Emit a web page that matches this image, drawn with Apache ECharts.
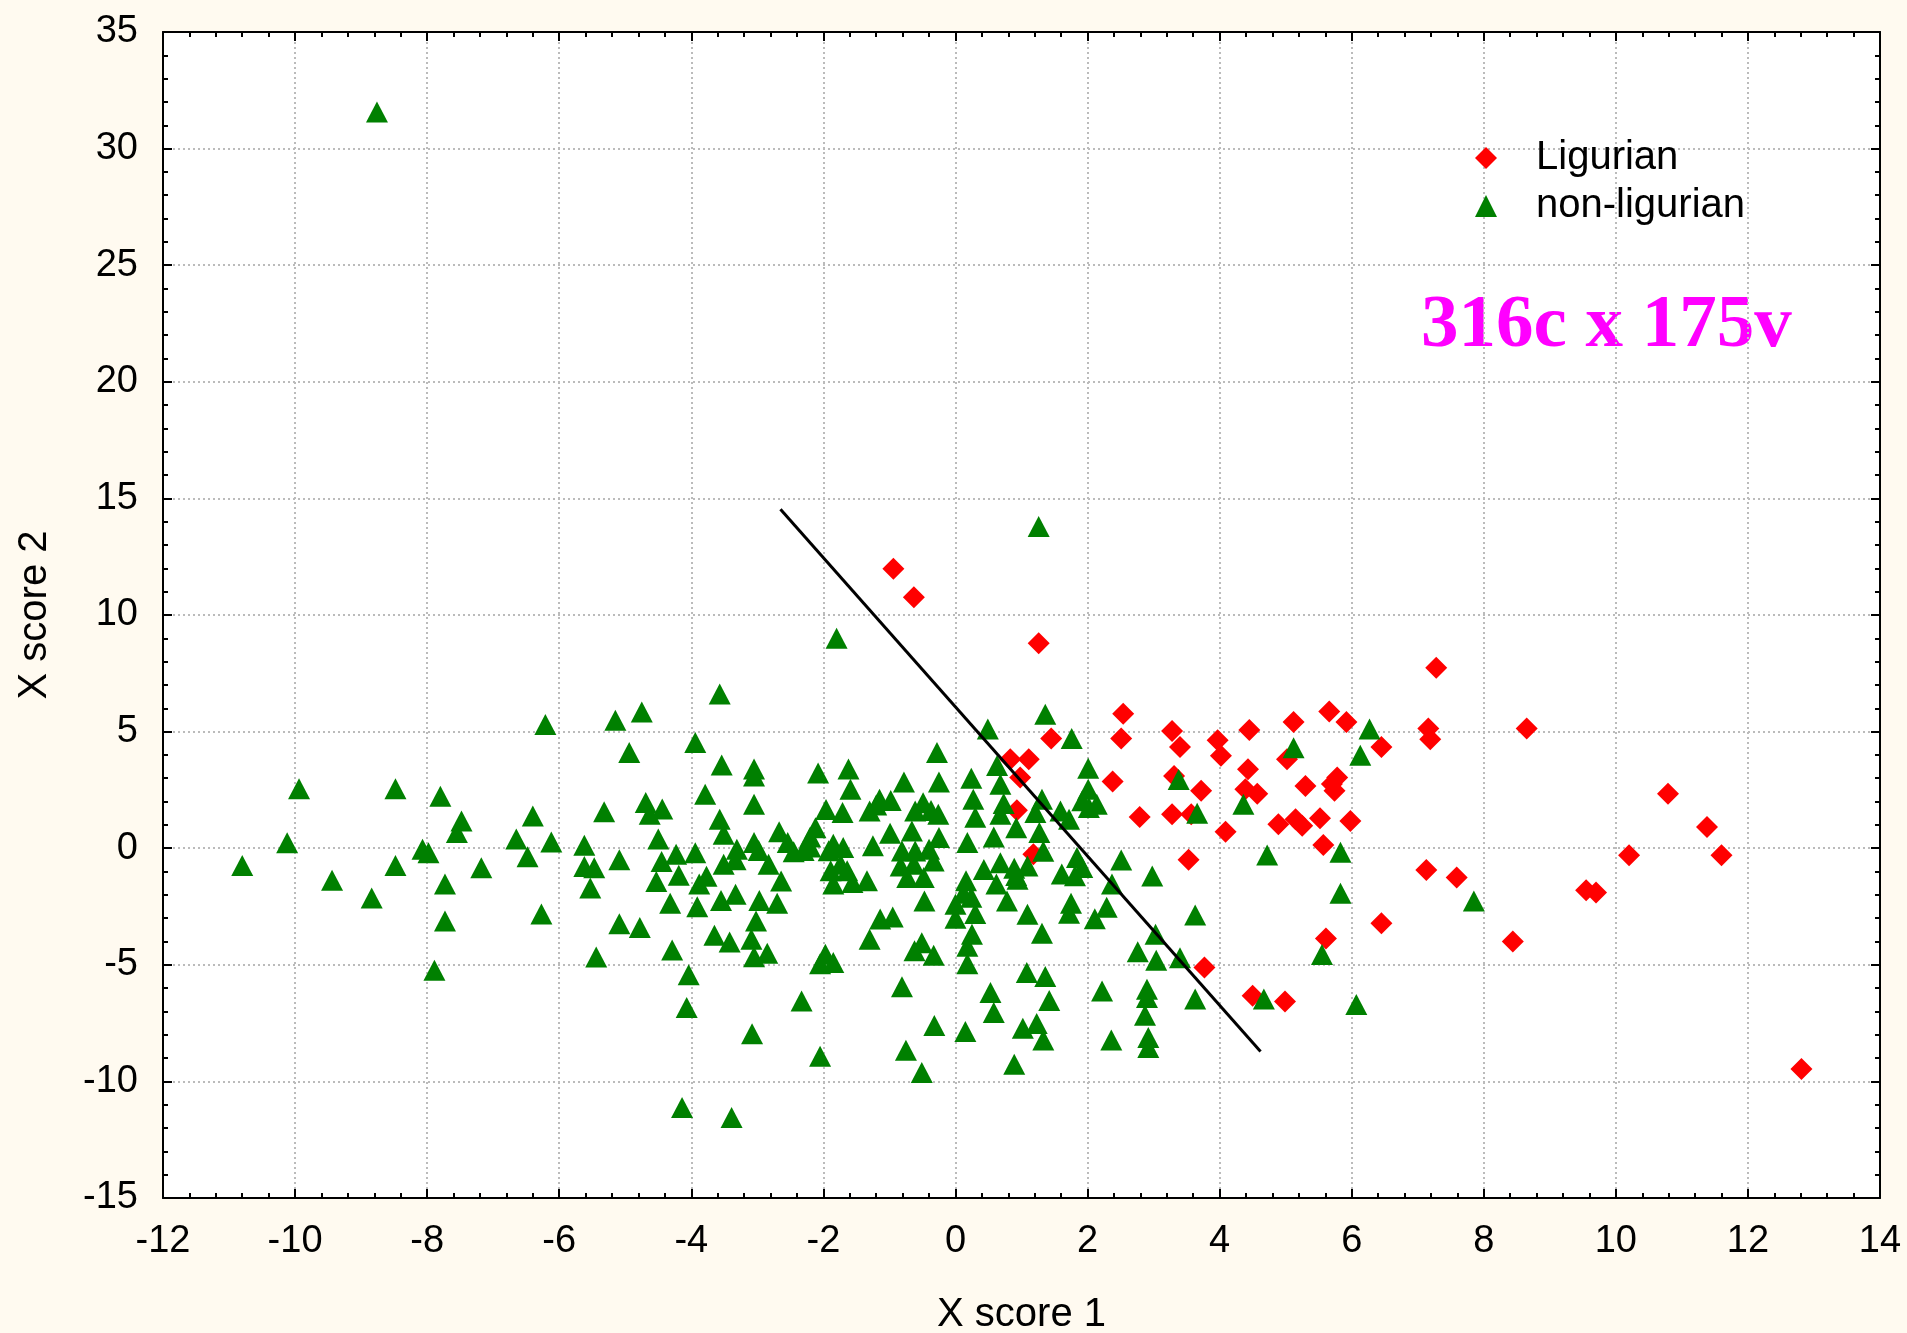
<!DOCTYPE html>
<html>
<head>
<meta charset="utf-8">
<script src="https://cdn.jsdelivr.net/npm/echarts@6/dist/echarts.min.js"></script>
<style>
  html, body { margin: 0; padding: 0; background: #FFFAF0; }
  #chart { width: 1907px; height: 1333px; }
</style>
</head>
<body>
<div id="chart"></div>
<script>
// Axis ranges and tick steps
const xRange = [-12, 14];
const xStep = 2;
const yRange = [-15, 35];
const yStep = 5;

// Axis titles and legend names
const xTitle = 'X score 1';
const yTitle = 'X score 2';
const groupNames = ['Ligurian', 'non-ligurian'];
const annotationText = '316c x 175v';

// Ligurian samples: [X score 1, X score 2]
const ligurianPoints = [
  [-0.94, 11.98], [-0.63, 10.76], [1.26, 8.79],
  [0.83, 3.81], [1.11, 3.81], [0.98, 3.03], [0.93, 1.63], [1.18, -0.26],
  [7.28, 7.74], [2.54, 5.77], [1.45, 4.70], [2.51, 4.70], [3.28, 5.03],
  [3.40, 4.34], [3.97, 4.63], [4.02, 3.96], [4.45, 5.07], [5.12, 5.41],
  [5.66, 5.86], [5.92, 5.41], [7.16, 5.13], [7.19, 4.67], [6.45, 4.34],
  [5.02, 3.81], [4.43, 3.39], [3.31, 3.10], [2.38, 2.86], [3.72, 2.46],
  [4.39, 2.53], [4.57, 2.34], [5.30, 2.67], [5.78, 3.03], [5.70, 2.75],
  [5.74, 2.46], [2.79, 1.34], [3.28, 1.46], [3.57, 1.46], [4.09, 0.71],
  [4.89, 1.03], [5.15, 1.24], [5.25, 0.96], [5.52, 1.28], [5.98, 1.17],
  [5.57, 0.14], [3.53, -0.50], [7.13, -0.93], [7.59, -1.26], [6.45, -3.22],
  [5.61, -3.87], [3.77, -5.12], [4.50, -6.33], [4.99, -6.57],
  [8.65, 5.13], [10.79, 2.34], [11.38, 0.91], [10.20, -0.30], [11.60, -0.30],
  [9.55, -1.80], [9.70, -1.90], [8.44, -4.00], [12.81, -9.47]
];

// Non-ligurian samples: [X score 1, X score 2]
const nonLigurianPoints = [
  [-8.76, 31.57], [-1.80, 9.00], [1.26, 13.80],
  [-6.21, 5.30], [-9.94, 2.55], [-8.48, 2.55], [-7.80, 2.23], [-7.48, 1.17],
  [-7.55, 0.67], [-6.40, 1.38], [-5.32, 1.56], [-10.12, 0.23], [-10.80, -0.74],
  [-8.07, -0.04], [-7.98, -0.19], [-8.48, -0.74], [-6.65, 0.39], [-6.12, 0.27],
  [-6.48, -0.37], [-5.62, 0.13], [-5.62, -0.79], [-5.47, -0.84], [-5.53, -1.71],
  [-7.18, -0.84], [-9.44, -1.37], [-7.73, -1.54], [-8.84, -2.14], [-7.73, -3.12],
  [-6.27, -2.82], [-5.44, -4.67], [-7.89, -5.23],
  [-3.57, 6.61], [-4.75, 5.84], [-5.15, 5.49], [-3.94, 4.53], [-4.94, 4.10],
  [-3.54, 3.57], [-3.05, 3.40], [-3.05, 3.10], [-2.08, 3.23], [-1.62, 3.40],
  [-1.59, 2.53], [-0.78, 2.84], [-0.28, 4.10], [-0.25, 2.84], [0.24, 3.00],
  [0.49, 5.11], [1.36, 5.74],
  [-3.79, 2.31], [-3.05, 1.89], [-4.69, 1.96], [-4.44, 1.68], [-4.63, 1.46],
  [-3.57, 1.24], [-3.51, 0.60], [-4.50, 0.39], [-1.96, 1.66], [-1.71, 1.53],
  [-1.30, 1.60], [-1.15, 2.10], [-0.98, 2.05], [-1.20, 1.85],
  [-0.49, 1.95], [-0.61, 1.60], [-0.26, 1.46], [-0.37, 1.62],
  [0.27, 2.10], [0.30, 1.33], [0.68, 2.74], [0.73, 1.92], [0.68, 1.46],
  [1.21, 1.53], [1.31, 2.10], [0.92, 0.88], [1.27, 0.67], [0.63, 3.55],
  [-2.67, 0.71], [-2.54, 0.24], [-2.45, -0.15], [-2.30, -0.10], [-2.20, 0.05],
  [-2.12, 0.88], [-2.20, 0.48],
  [-3.31, -0.04], [-3.05, 0.24], [-2.98, -0.10], [-3.33, -0.50], [-3.51, -0.69],
  [-2.83, -0.69], [-3.94, -0.19], [-4.23, -0.26], [-4.45, -0.57], [-5.09, -0.50],
  [-4.53, -1.43], [-4.19, -1.16], [-3.88, -1.54], [-3.77, -1.20], [-3.55, -2.24],
  [-3.33, -1.97], [-2.97, -2.24], [-2.70, -2.36], [-2.64, -1.41], [-4.32, -2.36],
  [-3.91, -2.51], [-5.09, -3.24], [-4.78, -3.40], [-3.02, -3.12], [-3.09, -3.90],
  [-3.65, -3.73], [-3.42, -4.02], [-3.05, -4.65], [-2.85, -4.50], [-4.29, -4.37],
  [-4.04, -5.43],
  [-1.97, -4.55], [-2.05, -4.95], [-1.85, -4.90], [-1.30, -3.90], [-1.14, -3.04],
  [-0.95, -2.95], [-0.81, -5.94], [-0.51, -4.05], [-0.62, -4.40], [-0.33, -4.59],
  [-0.47, -2.26], [0.25, -3.69], [0.18, -4.20], [0.18, -4.95], [0.53, -6.19],
  [1.08, -5.33], [1.31, -3.65], [1.36, -5.50], [1.09, -2.83], [0.78, -2.26],
  [0.62, -1.54], [0.92, -1.17], [0.68, -0.62], [0.43, -0.91], [0.18, 0.24],
  [0.58, 0.48], [1.09, -0.76], [0.16, -1.40], [0.12, -1.93], [0.24, -2.10],
  [0.00, -2.40], [0.00, -3.00], [0.30, -2.80], [-0.99, 0.64], [-1.25, 0.10],
  [-1.85, 0.17], [-1.70, 0.03], [-1.92, -0.11], [-1.74, -0.69], [-1.64, -0.97],
  [-1.89, -0.97], [-1.85, -1.54], [-1.56, -1.47], [-1.34, -1.40],
  [-0.66, 0.74], [-0.81, -0.12], [-0.61, -0.12], [-0.40, -0.04], [-0.25, 0.46],
  [-0.83, -0.76], [-0.63, -0.69], [-0.33, -0.55], [-0.73, -1.26], [-0.48, -1.26],
  [0.89, -0.86], [0.94, -1.33],
  [1.76, 4.70], [2.01, 3.43], [2.01, 2.53], [1.92, 2.03], [2.14, 1.89],
  [2.02, 1.74], [1.59, 1.60], [1.72, 1.24], [1.33, -0.13], [1.84, -0.40],
  [1.92, -0.83], [1.61, -1.11], [1.81, -1.18], [2.51, -0.51], [2.37, -1.54],
  [2.98, -1.19], [1.75, -2.36], [1.72, -2.79], [2.29, -2.53], [2.11, -3.03],
  [3.63, -2.86], [3.03, -3.69], [2.76, -4.44], [3.04, -4.80], [3.40, -4.70],
  [5.55, -4.56], [5.83, -0.17], [5.83, -1.93], [4.72, -0.29], [6.27, 5.11],
  [6.13, 3.99], [4.36, 1.89], [3.38, 2.95], [5.12, 4.31], [3.66, 1.50],
  [2.22, -6.12], [3.63, -6.47], [4.67, -6.47], [6.07, -6.70],
  [7.85, -2.26],
  [-4.07, -6.83], [-2.33, -6.55], [-3.08, -7.96], [-2.05, -8.92], [-0.32, -7.60],
  [-0.75, -8.66], [-0.51, -9.62], [0.15, -7.86], [0.58, -7.05], [1.02, -7.72],
  [1.23, -7.52], [1.33, -8.23], [0.89, -9.26], [2.90, -6.05], [2.90, -6.40],
  [2.87, -7.16], [2.36, -8.22], [2.92, -8.12], [2.92, -8.55], [1.42, -6.53],
  [-4.14, -11.12], [-3.39, -11.55]
];

// Separating line between the two groups (end points)
const boundaryLine = [[-2.65, 14.53], [4.62, -8.72]];

const FONT = '"Liberation Sans", Arial, sans-serif';
const gridLine = { show: true, lineStyle: { color: '#bbbbbb', width: 2, type: [2, 3] } };

function axisCommon(showLabels) {
  return {
    axisLine: { show: true, onZero: false, lineStyle: { color: '#000', width: 2 } },
    axisTick: { show: true, inside: true, length: 9, lineStyle: { color: '#000', width: 2 } },
    minorTick: { show: true, length: 5, lineStyle: { color: '#000', width: 2 } },
    axisLabel: { show: showLabels, color: '#000', fontSize: 38, fontFamily: FONT, margin: 25 }
  };
}

const chart = echarts.init(document.getElementById('chart'), null, { renderer: 'canvas' });

chart.setOption({
  animation: false,
  backgroundColor: '#FFFAF0',
  grid: {
    left: 163, right: 27, top: 32, bottom: 135,
    show: true, backgroundColor: '#ffffff', borderWidth: 0,
    containLabel: false, outerBoundsMode: 'none'
  },
  xAxis: [
    Object.assign(axisCommon(true), {
      type: 'value', position: 'bottom', min: xRange[0], max: xRange[1], interval: xStep,
      name: xTitle, nameLocation: 'middle', nameGap: 97,
      nameTextStyle: { color: '#000', fontSize: 40, fontFamily: FONT },
      splitLine: gridLine
    }),
    Object.assign(axisCommon(false), {
      type: 'value', position: 'top', min: xRange[0], max: xRange[1], interval: xStep,
      splitLine: { show: false }
    })
  ],
  yAxis: [
    Object.assign(axisCommon(true), {
      type: 'value', position: 'left', min: yRange[0], max: yRange[1], interval: yStep,
      name: yTitle, nameLocation: 'middle', nameGap: 108, nameRotate: 90,
      nameTextStyle: { color: '#000', fontSize: 40, fontFamily: FONT },
      splitLine: gridLine
    }),
    Object.assign(axisCommon(false), {
      type: 'value', position: 'right', min: yRange[0], max: yRange[1], interval: yStep,
      splitLine: { show: false }
    })
  ],
  legend: {
    orient: 'vertical', left: 1475, top: 138, padding: 0,
    itemWidth: 22, itemHeight: 22, itemGap: 8,
    selectedMode: false,
    data: groupNames,
    textStyle: { color: '#000', fontSize: 40, fontFamily: FONT, lineHeight: 40, padding: [0, 0, 0, 34] }
  },
  graphic: [{
    type: 'text', left: 1421, top: 289, silent: true,
    style: {
      text: annotationText, fill: '#FF00FF',
      font: 'bold 75px "Liberation Serif", "Times New Roman", serif'
    }
  }],
  series: [
    {
      name: groupNames[0], type: 'scatter', symbol: 'diamond', symbolSize: [22, 22],
      itemStyle: { color: '#FF0000', opacity: 1 }, data: ligurianPoints, z: 2
    },
    {
      name: groupNames[1], type: 'scatter', symbol: 'triangle', symbolSize: [22, 21],
      itemStyle: { color: '#008000', opacity: 1 }, data: nonLigurianPoints, z: 3
    },
    {
      name: 'boundary', type: 'line', data: boundaryLine, symbol: 'none',
      lineStyle: { color: '#000', width: 3 }, silent: true, z: 4
    }
  ]
});
</script>
</body>
</html>
